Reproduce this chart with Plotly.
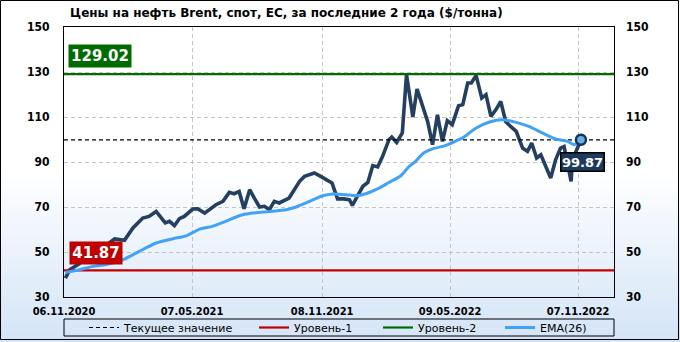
import base64
import struct
import zlib

import plotly.graph_objects as go

# ---------------- data ----------------
price_dates = [
    "2020-11-08", "2020-11-14", "2020-11-26", "2020-12-22", "2021-01-05", "2021-01-17",
    "2021-01-31", "2021-02-12", "2021-02-26", "2021-03-07", "2021-03-17", "2021-03-30",
    "2021-04-05", "2021-04-12", "2021-04-19", "2021-04-26", "2021-05-08", "2021-05-15",
    "2021-05-25", "2021-06-03", "2021-06-10", "2021-06-20", "2021-06-29", "2021-07-06",
    "2021-07-13", "2021-07-20", "2021-07-28", "2021-08-04", "2021-08-11", "2021-08-18",
    "2021-08-25", "2021-09-01", "2021-09-08", "2021-09-22", "2021-09-29", "2021-10-07",
    "2021-10-14", "2021-10-28", "2021-11-06", "2021-11-18", "2021-11-22", "2021-11-30",
    "2021-12-09", "2021-12-17", "2021-12-21", "2021-12-28", "2022-01-05", "2022-01-12",
    "2022-01-19", "2022-01-26", "2022-02-02", "2022-02-11", "2022-02-15", "2022-02-22",
    "2022-03-02", "2022-03-08", "2022-03-17", "2022-03-23", "2022-03-31", "2022-04-07",
    "2022-04-14", "2022-04-21", "2022-04-28", "2022-05-05", "2022-05-12", "2022-05-21",
    "2022-05-27", "2022-06-03", "2022-06-08", "2022-06-15", "2022-06-23", "2022-06-29",
    "2022-07-06", "2022-07-13", "2022-07-20", "2022-07-27", "2022-08-03", "2022-08-11",
    "2022-08-20", "2022-08-27", "2022-09-02", "2022-09-09", "2022-09-15", "2022-09-22",
    "2022-09-29", "2022-10-06", "2022-10-13", "2022-10-18", "2022-10-28", "2022-10-30",
    "2022-11-11",
]
price_values = [
    38.4, 42.1, 44.4, 50.5, 53.0, 55.8,
    55.2, 60.7, 65.1, 65.8, 68.0, 62.9,
    63.6, 61.7, 64.8, 65.8, 69.1, 69.2,
    67.3, 69.5, 71.0, 72.5, 76.5, 75.9,
    76.9, 69.2, 77.7, 73.7, 70.0, 70.3,
    68.8, 72.5, 71.8, 74.0, 77.7, 81.4,
    83.6, 85.1, 83.6, 81.4, 80.7, 73.6,
    73.6, 73.2, 70.7, 74.7, 79.2, 80.9,
    88.4, 87.8, 92.5, 99.9, 101.1, 98.7,
    102.9, 128.8, 110.0, 122.4, 114.7, 108.0,
    97.7, 111.0, 99.2, 108.4, 106.6, 115.0,
    115.5, 125.1, 125.1, 128.4, 118.4, 119.9,
    110.3, 113.2, 116.9, 108.0, 105.8, 103.6,
    96.2, 94.7, 98.4, 91.8, 93.2, 88.0,
    82.9, 91.0, 96.2, 96.9, 81.4, 91.0,
    99.87,
]

ema_dates = [
    "2020-11-08", "2020-11-28", "2020-12-17", "2021-01-05", "2021-01-29", "2021-02-21",
    "2021-03-17", "2021-04-10", "2021-04-29", "2021-05-18", "2021-06-05", "2021-06-24",
    "2021-07-13", "2021-08-01", "2021-08-25", "2021-09-18", "2021-10-02", "2021-10-21",
    "2021-11-09", "2021-11-23", "2021-12-12", "2021-12-26", "2022-01-09", "2022-01-28",
    "2022-02-11", "2022-02-28", "2022-03-12", "2022-03-21", "2022-03-31", "2022-04-14",
    "2022-05-03", "2022-05-21", "2022-05-27", "2022-06-15", "2022-07-04", "2022-07-22",
    "2022-08-11", "2022-08-29", "2022-09-17", "2022-10-06", "2022-10-23", "2022-11-01",
    "2022-11-11",
]
ema_values = [
    40.9, 42.1, 43.6, 44.4, 46.6, 50.3,
    54.0, 55.9, 57.2, 60.2, 61.4, 63.6,
    66.1, 67.3, 68.0, 68.8, 70.0, 72.5,
    75.0, 75.8, 75.5, 75.0, 75.9, 78.4,
    80.9, 83.9, 88.1, 90.3, 93.7, 95.8,
    97.4, 99.9, 100.7, 105.1, 107.8, 108.8,
    107.6, 105.8, 102.9, 100.2, 99.2, 97.7,
    99.2,
]

current_value = 99.87
level_1 = 41.87
level_2 = 129.02

x_range = ["2020-11-06", "2022-12-28"]
x_tickvals = ["2020-11-06", "2021-05-07", "2021-11-08", "2022-05-09", "2022-11-07"]
x_ticktext = ["06.11.2020", "07.05.2021", "08.11.2021", "09.05.2022", "07.11.2022"]
y_range = [30, 150]
y_tickvals = [30, 50, 70, 90, 110, 130, 150]

title_text = "Цены на нефть Brent, спот, ЕС, за последние 2 года ($/тонна)"
legend_names = ["Текущее значение", "Уровень-1", "Уровень-2", "EMA(26)"]

# ---------------- styling ----------------
W, H = 680, 342
ML, MR, MT, MB = 64, 66, 27, 45
PW, PH = W - ML - MR, H - MT - MB

FONT = "DejaVu Sans Condensed, DejaVu Sans, sans-serif"
FONT_B = "DejaVu Sans, sans-serif"
C_PRICE = "#243f60"
C_EMA = "#41a2f6"
C_RED = "#c00000"
C_GREEN = "#006c00"
C_GRID = "#c4c4c4"


def px_x(px):
    return (px - ML) / PW


def px_y(py):
    return (H - MB - py) / PH


def gradient_png(h, top, bottom, start):
    raw = b""
    for i in range(h):
        t = i / (h - 1)
        f = 0.0 if t < start else (t - start) / (1 - start)
        c = bytes(round(top[k] + (bottom[k] - top[k]) * f) for k in range(3))
        raw += b"\x00" + c

    def chunk(tag, data):
        return (struct.pack(">I", len(data)) + tag + data
                + struct.pack(">I", zlib.crc32(tag + data) & 0xFFFFFFFF))

    png = b"\x89PNG\r\n\x1a\n"
    png += chunk(b"IHDR", struct.pack(">IIBBBBB", 1, h, 8, 2, 0, 0, 0))
    png += chunk(b"IDAT", zlib.compress(raw))
    png += chunk(b"IEND", b"")
    return "data:image/png;base64," + base64.b64encode(png).decode()


fig = go.Figure()

# price line
fig.add_trace(go.Scatter(
    x=price_dates, y=price_values, mode="lines",
    line=dict(color=C_PRICE, width=3.6), showlegend=False, hoverinfo="skip",
))

# horizontal level lines (legend entries)
fig.add_trace(go.Scatter(
    x=x_range, y=[current_value, current_value], mode="lines",
    line=dict(color="black", width=1.2, dash="4px,3px"),
    name=legend_names[0], legend="legend",
))
fig.add_trace(go.Scatter(
    x=x_range, y=[level_1, level_1], mode="lines",
    line=dict(color=C_RED, width=2.2), name=legend_names[1], legend="legend2",
))
fig.add_trace(go.Scatter(
    x=x_range, y=[level_2, level_2], mode="lines",
    line=dict(color=C_GREEN, width=2.2), name=legend_names[2], legend="legend3",
))
fig.add_trace(go.Scatter(
    x=ema_dates, y=ema_values, mode="lines",
    line=dict(color=C_EMA, width=3, shape="spline", smoothing=0.6),
    name=legend_names[3], legend="legend4",
))

# last point marker
fig.add_trace(go.Scatter(
    x=[price_dates[-1]], y=[price_values[-1]], mode="markers",
    marker=dict(size=10, color="#62b4d8", line=dict(color="#14325c", width=2.5)),
    showlegend=False, hoverinfo="skip",
))

# invisible trace so the right-hand axis is drawn
fig.add_trace(go.Scatter(
    x=[x_range[0]], y=[y_range[0]], yaxis="y2", mode="markers",
    marker=dict(opacity=0), showlegend=False, hoverinfo="skip",
))

axis_font = dict(family=FONT, size=12, color="black", weight="bold")

fig.update_layout(
    width=W, height=H,
    margin=dict(l=ML, r=MR, t=MT, b=MB, pad=0, autoexpand=False),
    paper_bgcolor="white",
    plot_bgcolor="rgba(0,0,0,0)",
    font=dict(family=FONT, size=11, color="black"),
    xaxis=dict(
        type="date", range=x_range, tickvals=x_tickvals, ticktext=x_ticktext,
        showgrid=True, gridcolor=C_GRID, griddash="4px,3px", gridwidth=1,
        showline=True, linecolor="black", linewidth=1, mirror=True,
        ticks="", tickfont=dict(family=FONT, size=11, color="black", weight="bold"),
        ticklabelstandoff=4, zeroline=False,
    ),
    yaxis=dict(
        range=y_range, tickvals=y_tickvals,
        showgrid=True, gridcolor=C_GRID, griddash="4px,3px", gridwidth=1,
        showline=True, linecolor="black", linewidth=1, mirror=True,
        ticks="", tickfont=axis_font, ticklabelstandoff=11, zeroline=False,
    ),
    yaxis2=dict(
        range=y_range, tickvals=y_tickvals, overlaying="y", side="right",
        showgrid=False, showline=False, ticks="", tickfont=axis_font,
        ticklabelstandoff=11, zeroline=False,
    ),
    showlegend=True,
)

legend_px = [84, 254, 378, 500]
for i, key in enumerate(["legend", "legend2", "legend3", "legend4"]):
    fig.update_layout({key: dict(
        orientation="h", x=px_x(legend_px[i]), y=px_y(327.5),
        xanchor="left", yanchor="middle", bgcolor="rgba(0,0,0,0)",
        borderwidth=0, font=dict(family=FONT_B, size=11, color="black"),
        itemclick=False, itemdoubleclick=False,
    )})

# gradient background for the whole picture
fig.add_layout_image(dict(
    source=gradient_png(H, (255, 255, 255), (212, 228, 247), 0.5),
    xref="paper", yref="paper",
    x=px_x(0), y=px_y(0), sizex=W / PW, sizey=H / PH,
    xanchor="left", yanchor="top", sizing="stretch", layer="below",
))

# outer border and legend box
fig.add_shape(type="rect", xref="paper", yref="paper",
              x0=px_x(0.5), x1=px_x(W - 1.5), y0=px_y(0.5), y1=px_y(H - 2.5),
              line=dict(color="black", width=1), fillcolor="rgba(0,0,0,0)", layer="above")
fig.add_shape(type="rect", xref="paper", yref="paper",
              x0=0, x1=1, y0=px_y(319), y1=px_y(336),
              line=dict(color="black", width=1), fillcolor="rgba(0,0,0,0)")

# title
fig.add_annotation(
    text=title_text, xref="paper", yref="paper", x=px_x(68), y=px_y(13),
    xanchor="left", yanchor="middle", showarrow=False,
    font=dict(family=FONT_B, size=12, color="black", weight="bold"),
)

# level labels
fig.add_annotation(
    text=f"{level_2:.2f}", xref="paper", yref="y", x=px_x(68), y=level_2,
    xanchor="left", yanchor="bottom", yshift=6, showarrow=False,
    bgcolor=C_GREEN, width=60, height=20, borderpad=1,
    font=dict(family=FONT_B, size=15, color="white", weight="bold"),
)
fig.add_annotation(
    text=f"{level_1:.2f}", xref="paper", yref="y", x=px_x(69), y=level_1,
    xanchor="left", yanchor="bottom", yshift=5, showarrow=False,
    bgcolor=C_RED, width=50, height=20, borderpad=1,
    font=dict(family=FONT_B, size=15, color="white", weight="bold"),
)
fig.add_annotation(
    text=f"{current_value:.2f}", xref="x", yref="y", x=price_dates[-1], y=current_value,
    xanchor="center", yanchor="top", xshift=2, yshift=-12, showarrow=False,
    bgcolor="#1f3a60", bordercolor="black", borderwidth=1.5, width=42, height=17,
    borderpad=0,
    font=dict(family=FONT_B, size=13, color="white", weight="bold"),
)

fig.write_html("out.html")
